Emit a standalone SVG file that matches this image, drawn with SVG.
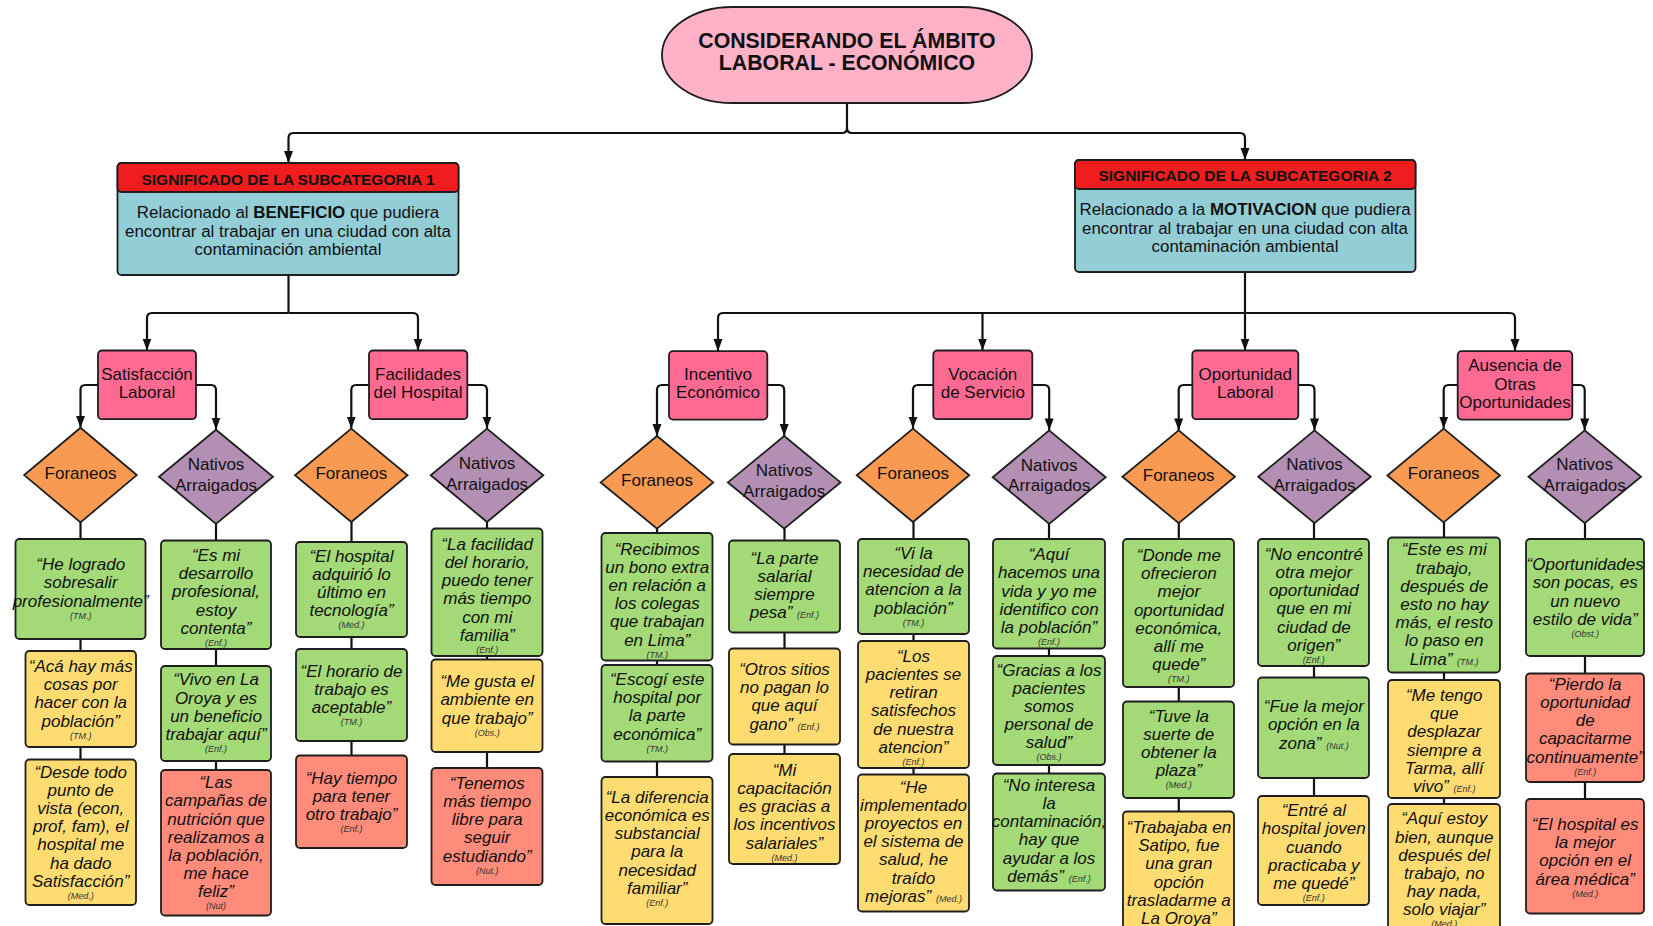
<svg xmlns="http://www.w3.org/2000/svg" width="1653" height="926" viewBox="0 0 1653 926">
<defs>
<style>
text{font-family:"Liberation Sans",Arial,sans-serif;text-anchor:middle;fill:#111}
.ttl{font-size:21.3px;font-weight:bold}
.hdr{font-size:15.5px;font-weight:bold}
.dsc{font-size:16.9px}
.cat,.dia{font-size:17px}
.q{font-size:17px;font-style:italic}
.a{font-size:9px;font-style:italic;fill:#333}
.box{stroke:#1e1e1e;stroke-width:1.8}
.g{fill:#a3d977}.y{fill:#ffdc71}.s{fill:#ff8b7b}
.fo{fill:#f89a52}.na{fill:#b48fb4}
.ck{fill:#ff6a93}
.ln{fill:none;stroke:#111;stroke-width:2.2}
.ar{marker-end:url(#tip)}
</style>
<marker id="tip" viewBox="0 0 12 10" refX="12" refY="5" markerWidth="12" markerHeight="10" markerUnits="userSpaceOnUse" orient="auto">
<path d="M0,0.5 L12,5 L0,9.5 z" fill="#111"/>
</marker>
</defs>
<rect width="1653" height="926" fill="#fff"/>

<!-- connectors -->
<g id="connectors">
<path class="ln ar" d="M847,103 V128 q0,5 -5,5 H293.5 q-5,0 -5,5 V163"/>
<path class="ln ar" d="M847,128 q0,5 5,5 H1240 q5,0 5,5 V160"/>
<path class="ln" d="M288.5,275 V313"/>
<path class="ln ar" d="M288.5,313 H152 q-5,0 -5,5 V350.5"/>
<path class="ln ar" d="M288.5,313 H413 q5,0 5,5 V350.5"/>
<path class="ln" d="M1245,272 V313"/>
<path class="ln ar" d="M1245,313 H723 q-5,0 -5,5 V351"/>
<path class="ln ar" d="M982.5,313 V350.5"/>
<path class="ln ar" d="M1245,313 V350.5"/>
<path class="ln ar" d="M1245,313 H1510 q5,0 5,5 V351"/>
<!-- category to group -->
<path class="ln ar" d="M98,385 H85.5 q-5,0 -5,5 V427.8"/>
<path class="ln ar" d="M196,385 H211 q5,0 5,5 V429.7"/>
<path class="ln ar" d="M369,385 H356.3 q-5,0 -5,5 V428.6"/>
<path class="ln ar" d="M467.3,385 H482 q5,0 5,5 V428.6"/>
<path class="ln ar" d="M669,385 H662 q-5,0 -5,5 V436"/>
<path class="ln ar" d="M767.3,385 H779.2 q5,0 5,5 V436"/>
<path class="ln ar" d="M933.3,385 H918 q-5,0 -5,5 V428.6"/>
<path class="ln ar" d="M1032.3,385 H1044.2 q5,0 5,5 V430.4"/>
<path class="ln ar" d="M1192.3,385 H1183.7 q-5,0 -5,5 V430.4"/>
<path class="ln ar" d="M1298.3,385 H1309.5 q5,0 5,5 V430.4"/>
<path class="ln ar" d="M1457.7,385 H1448.7 q-5,0 -5,5 V428.6"/>
<path class="ln ar" d="M1572.3,385 H1579.7 q5,0 5,5 V430.4"/>
<!-- group to quotes -->
<path class="ln" d="M80.5,522 V760"/>
<path class="ln" d="M216,523 V770"/>
<path class="ln" d="M351.5,522 V756"/>
<path class="ln" d="M487,522 V768"/>
<path class="ln" d="M657,528 V777"/>
<path class="ln" d="M784.5,528 V754"/>
<path class="ln" d="M913.5,522 V775"/>
<path class="ln" d="M1049,523 V774"/>
<path class="ln" d="M1178.8,523 V812"/>
<path class="ln" d="M1314,523 V796"/>
<path class="ln" d="M1444,522 V804"/>
<path class="ln" d="M1585,523 V799"/>
</g>

<!-- title -->
<g id="title">
<rect class="box" x="662" y="7" width="370" height="96" rx="70" ry="48" fill="#ffb1c8"/>
<text class="ttl" x="847" y="47.5">CONSIDERANDO EL ÁMBITO</text>
<text class="ttl" x="847" y="70.3">LABORAL - ECONÓMICO</text>
</g>

<!-- subcategory 1 -->
<g id="sub1">
<rect class="box" x="117.5" y="163" width="341" height="112" rx="4" fill="#93cdd6"/>
<rect class="box" x="117.5" y="163" width="341" height="29" rx="4" fill="#f01c1e"/>
<text class="hdr" x="288" y="184.6">SIGNIFICADO DE LA SUBCATEGORIA 1</text>
<text class="dsc" x="288" y="218">Relacionado al <tspan font-weight="bold">BENEFICIO</tspan> que pudiera</text>
<text class="dsc" x="288" y="236.6">encontrar al trabajar en una ciudad con alta</text>
<text class="dsc" x="288" y="254.9">contaminación ambiental</text>
</g>

<!-- subcategory 2 -->
<g id="sub2">
<rect class="box" x="1075" y="160" width="340.5" height="112" rx="4" fill="#93cdd6"/>
<rect class="box" x="1075" y="160" width="340.5" height="29" rx="4" fill="#f01c1e"/>
<text class="hdr" x="1245" y="180.6">SIGNIFICADO DE LA SUBCATEGORIA 2</text>
<text class="dsc" x="1245" y="215">Relacionado a la <tspan font-weight="bold">MOTIVACION</tspan> que pudiera</text>
<text class="dsc" x="1245" y="233.6">encontrar al trabajar en una ciudad con alta</text>
<text class="dsc" x="1245" y="251.9">contaminación ambiental</text>
</g>

<!-- categories -->
<g id="cat-satisfaccion">
<rect class="box ck" x="98" y="350.5" width="98" height="68.7" rx="4"/>
<text class="cat" x="147" y="379.6">Satisfacción</text>
<text class="cat" x="147" y="397.6">Laboral</text>
</g>
<g id="cat-facilidades">
<rect class="box ck" x="369" y="350.5" width="98.3" height="68.7" rx="4"/>
<text class="cat" x="418" y="379.6">Facilidades</text>
<text class="cat" x="418" y="397.6">del Hospital</text>
</g>
<g id="cat-incentivo">
<rect class="box ck" x="669" y="351.2" width="98.3" height="68.4" rx="4"/>
<text class="cat" x="718" y="380.4">Incentivo</text>
<text class="cat" x="718" y="398.3">Económico</text>
</g>
<g id="cat-vocacion">
<rect class="box ck" x="933.3" y="350.5" width="99" height="68.7" rx="4"/>
<text class="cat" x="982.8" y="379.6">Vocación</text>
<text class="cat" x="982.8" y="397.6">de Servicio</text>
</g>
<g id="cat-oportunidad">
<rect class="box ck" x="1192.3" y="350.5" width="106" height="68.7" rx="4"/>
<text class="cat" x="1245.3" y="379.6">Oportunidad</text>
<text class="cat" x="1245.3" y="397.6">Laboral</text>
</g>
<g id="cat-ausencia">
<rect class="box ck" x="1457.7" y="351.2" width="114.6" height="68.4" rx="4"/>
<text class="cat" x="1515" y="371.4">Ausencia de</text>
<text class="cat" x="1515" y="389.7">Otras</text>
<text class="cat" x="1515" y="407.7">Oportunidades</text>
</g>

<!-- groups -->
<g id="sat-foraneos"><polygon class="box fo" points="80.5,427.8 136.8,475.1 80.5,522.4 24.2,475.1"/><text class="dia" x="80.5" y="478.8">Foraneos</text></g>
<g id="sat-nativos"><polygon class="box na" points="216,429.7 273,476.8 216,523.9 159,476.8"/><text class="dia" x="216" y="470.4">Nativos</text><text class="dia" x="216" y="491">Arraigados</text></g>
<g id="fac-foraneos"><polygon class="box fo" points="351.3,428.6 407.6,475.3 351.3,522 295,475.3"/><text class="dia" x="351.3" y="479">Foraneos</text></g>
<g id="fac-nativos"><polygon class="box na" points="487,428.6 543.3,475.3 487,522 430.7,475.3"/><text class="dia" x="487" y="468.9">Nativos</text><text class="dia" x="487" y="489.5">Arraigados</text></g>
<g id="inc-foraneos"><polygon class="box fo" points="657,436 713.3,482.4 657,528.7 600.7,482.4"/><text class="dia" x="657" y="486.1">Foraneos</text></g>
<g id="inc-nativos"><polygon class="box na" points="784.2,436 840.5,482.4 784.2,528.7 727.9,482.4"/><text class="dia" x="784.2" y="476">Nativos</text><text class="dia" x="784.2" y="496.6">Arraigados</text></g>
<g id="voc-foraneos"><polygon class="box fo" points="913,428.6 969.3,475.3 913,522 856.7,475.3"/><text class="dia" x="913" y="479">Foraneos</text></g>
<g id="voc-nativos"><polygon class="box na" points="1049.2,430.4 1105.7,477.2 1049.2,523.9 992.7,477.2"/><text class="dia" x="1049.2" y="470.8">Nativos</text><text class="dia" x="1049.2" y="491.4">Arraigados</text></g>
<g id="opo-foraneos"><polygon class="box fo" points="1178.7,430.4 1235,476.8 1178.7,523.1 1122.4,476.8"/><text class="dia" x="1178.7" y="480.5">Foraneos</text></g>
<g id="opo-nativos"><polygon class="box na" points="1314.5,430.4 1370.8,476.8 1314.5,523.1 1258.2,476.8"/><text class="dia" x="1314.5" y="470.4">Nativos</text><text class="dia" x="1314.5" y="491">Arraigados</text></g>
<g id="aus-foraneos"><polygon class="box fo" points="1443.7,428.6 1500,475.5 1443.7,522.4 1387.4,475.5"/><text class="dia" x="1443.7" y="479.2">Foraneos</text></g>
<g id="aus-nativos"><polygon class="box na" points="1584.7,430.4 1641,476.8 1584.7,523.1 1528.4,476.8"/><text class="dia" x="1584.7" y="470.4">Nativos</text><text class="dia" x="1584.7" y="491">Arraigados</text></g>

<!-- quotes: Satisfacción Laboral -->
<g id="sat-f1"><rect class="box g" x="15.5" y="539" width="130" height="100" rx="4"/>
<text class="q" x="80.7" y="570.2">“He logrado<tspan x="80.7" dy="18.2">sobresalir</tspan><tspan x="80.7" dy="18.2">profesionalmente”</tspan><tspan class="a" x="80.7" dy="12">(TM.)</tspan></text></g>
<g id="sat-f2"><rect class="box y" x="25.5" y="651" width="110.5" height="96" rx="4"/>
<text class="q" x="80.7" y="671.9">“Acá hay más<tspan x="80.7" dy="18.2">cosas por</tspan><tspan x="80.7" dy="18.2">hacer con la</tspan><tspan x="80.7" dy="18.2">población”</tspan><tspan class="a" x="80.7" dy="12">(TM.)</tspan></text></g>
<g id="sat-f3"><rect class="box y" x="25.5" y="759.5" width="110.5" height="145.5" rx="4"/>
<text class="q" x="80.7" y="777.6">“Desde todo<tspan x="80.7" dy="18.2">punto de</tspan><tspan x="80.7" dy="18.2">vista (econ,</tspan><tspan x="80.7" dy="18.2">prof, fam), el</tspan><tspan x="80.7" dy="18.2">hospital me</tspan><tspan x="80.7" dy="18.2">ha dado</tspan><tspan x="80.7" dy="18.2">Satisfacción”</tspan><tspan class="a" x="80.7" dy="12">(Med.)</tspan></text></g>
<g id="sat-n1"><rect class="box g" x="161" y="540.5" width="110" height="108.5" rx="4"/>
<text class="q" x="216" y="560.9">“Es mi<tspan x="216" dy="18.2">desarrollo</tspan><tspan x="216" dy="18.2">profesional,</tspan><tspan x="216" dy="18.2">estoy</tspan><tspan x="216" dy="18.2">contenta”</tspan><tspan class="a" x="216" dy="12">(Enf.)</tspan></text></g>
<g id="sat-n2"><rect class="box g" x="161" y="666" width="110" height="95" rx="4"/>
<text class="q" x="216" y="685.3">“Vivo en La<tspan x="216" dy="18.2">Oroya y es</tspan><tspan x="216" dy="18.2">un beneficio</tspan><tspan x="216" dy="18.2">trabajar aquí”</tspan><tspan class="a" x="216" dy="12">(Enf.)</tspan></text></g>
<g id="sat-n3"><rect class="box s" x="161" y="770" width="110" height="145.5" rx="4"/>
<text class="q" x="216" y="788.1">“Las<tspan x="216" dy="18.2">campañas de</tspan><tspan x="216" dy="18.2">nutrición que</tspan><tspan x="216" dy="18.2">realizamos a</tspan><tspan x="216" dy="18.2">la población,</tspan><tspan x="216" dy="18.2">me hace</tspan><tspan x="216" dy="18.2">feliz”</tspan><tspan class="a" x="216" dy="12">(Nut)</tspan></text></g>

<!-- quotes: Facilidades del Hospital -->
<g id="fac-f1"><rect class="box g" x="296" y="542" width="111" height="95" rx="4"/>
<text class="q" x="351.5" y="561.6">“El hospital<tspan x="351.5" dy="18.2">adquirió lo</tspan><tspan x="351.5" dy="18.2">último en</tspan><tspan x="351.5" dy="18.2">tecnología”</tspan><tspan class="a" x="351.5" dy="12">(Med.)</tspan></text></g>
<g id="fac-f2"><rect class="box g" x="296" y="649" width="111" height="92" rx="4"/>
<text class="q" x="351.5" y="676.7">“El horario de<tspan x="351.5" dy="18.2">trabajo es</tspan><tspan x="351.5" dy="18.2">aceptable”</tspan><tspan class="a" x="351.5" dy="12">(TM.)</tspan></text></g>
<g id="fac-f3"><rect class="box s" x="296" y="755.5" width="111" height="92.5" rx="4"/>
<text class="q" x="351.5" y="784">“Hay tiempo<tspan x="351.5" dy="18.2">para tener</tspan><tspan x="351.5" dy="18.2">otro trabajo”</tspan><tspan class="a" x="351.5" dy="12">(Enf.)</tspan></text></g>
<g id="fac-n1"><rect class="box g" x="431.5" y="528.5" width="111" height="127.5" rx="4"/>
<text class="q" x="487.2" y="549.7">“La facilidad<tspan x="487.2" dy="18.2">del horario,</tspan><tspan x="487.2" dy="18.2">puedo tener</tspan><tspan x="487.2" dy="18.2">más tiempo</tspan><tspan x="487.2" dy="18.2">con mi</tspan><tspan x="487.2" dy="18.2">familia”</tspan><tspan class="a" x="487.2" dy="12">(Enf.)</tspan></text></g>
<g id="fac-n2"><rect class="box y" x="431.5" y="659.5" width="111" height="92.5" rx="4"/>
<text class="q" x="487.2" y="687.2">“Me gusta el<tspan x="487.2" dy="18.2">ambiente en</tspan><tspan x="487.2" dy="18.2">que trabajo”</tspan><tspan class="a" x="487.2" dy="12">(Obs.)</tspan></text></g>
<g id="fac-n3"><rect class="box s" x="431.5" y="768" width="111" height="117" rx="4"/>
<text class="q" x="487.2" y="788.8">“Tenemos<tspan x="487.2" dy="18.2">más tiempo</tspan><tspan x="487.2" dy="18.2">libre para</tspan><tspan x="487.2" dy="18.2">seguir</tspan><tspan x="487.2" dy="18.2">estudiando”</tspan><tspan class="a" x="487.2" dy="12">(Nut.)</tspan></text></g>

<!-- quotes: Incentivo Económico -->
<g id="inc-f1"><rect class="box g" x="601.5" y="533" width="111" height="127.5" rx="4"/>
<text class="q" x="657.2" y="554.5">“Recibimos<tspan x="657.2" dy="18.2">un bono extra</tspan><tspan x="657.2" dy="18.2">en relación a</tspan><tspan x="657.2" dy="18.2">los colegas</tspan><tspan x="657.2" dy="18.2">que trabajan</tspan><tspan x="657.2" dy="18.2">en Lima”</tspan><tspan class="a" x="657.2" dy="12">(TM.)</tspan></text></g>
<g id="inc-f2"><rect class="box g" x="601.5" y="665" width="111" height="96.5" rx="4"/>
<text class="q" x="657.2" y="685">“Escogí este<tspan x="657.2" dy="18.2">hospital por</tspan><tspan x="657.2" dy="18.2">la parte</tspan><tspan x="657.2" dy="18.2">económica”</tspan><tspan class="a" x="657.2" dy="12">(TM.)</tspan></text></g>
<g id="inc-f3"><rect class="box y" x="601.5" y="777" width="111" height="147" rx="4"/>
<text class="q" x="657.2" y="802.7">“La diferencia<tspan x="657.2" dy="18.2">económica es</tspan><tspan x="657.2" dy="18.2">substancial</tspan><tspan x="657.2" dy="18.2">para la</tspan><tspan x="657.2" dy="18.2">necesidad</tspan><tspan x="657.2" dy="18.2">familiar”</tspan><tspan class="a" x="657.2" dy="12">(Enf.)</tspan></text></g>
<g id="inc-n1"><rect class="box g" x="729" y="540.5" width="111" height="92" rx="4"/>
<text class="q" x="784.5" y="563.5">“La parte<tspan x="784.5" dy="18.2">salarial</tspan><tspan x="784.5" dy="18.2">siempre</tspan><tspan x="784.5" dy="18.2">pesa” <tspan class="a">(Enf.)</tspan></tspan></text></g>
<g id="inc-n2"><rect class="box y" x="729" y="648.5" width="111" height="96" rx="4"/>
<text class="q" x="784.5" y="674.9">“Otros sitios<tspan x="784.5" dy="18.2">no pagan lo</tspan><tspan x="784.5" dy="18.2">que aquí</tspan><tspan x="784.5" dy="18.2">gano” <tspan class="a">(Enf.)</tspan></tspan></text></g>
<g id="inc-n3"><rect class="box y" x="729" y="754" width="111" height="110" rx="4"/>
<text class="q" x="784.5" y="775.8">“Mi<tspan x="784.5" dy="18.2">capacitación</tspan><tspan x="784.5" dy="18.2">es gracias a</tspan><tspan x="784.5" dy="18.2">los incentivos</tspan><tspan x="784.5" dy="18.2">salariales”</tspan><tspan class="a" x="784.5" dy="12">(Med.)</tspan></text></g>

<!-- quotes: Vocación de Servicio -->
<g id="voc-f1"><rect class="box g" x="858" y="539" width="111" height="95" rx="4"/>
<text class="q" x="913.5" y="559">“Vi la<tspan x="913.5" dy="18.2">necesidad de</tspan><tspan x="913.5" dy="18.2">atencion a la</tspan><tspan x="913.5" dy="18.2">población”</tspan><tspan class="a" x="913.5" dy="12">(TM.)</tspan></text></g>
<g id="voc-f2"><rect class="box y" x="858" y="641" width="111" height="127" rx="4"/>
<text class="q" x="913.5" y="661.8">“Los<tspan x="913.5" dy="18.2">pacientes se</tspan><tspan x="913.5" dy="18.2">retiran</tspan><tspan x="913.5" dy="18.2">satisfechos</tspan><tspan x="913.5" dy="18.2">de nuestra</tspan><tspan x="913.5" dy="18.2">atencion”</tspan><tspan class="a" x="913.5" dy="12">(Enf.)</tspan></text></g>
<g id="voc-f3"><rect class="box y" x="858" y="774.5" width="111" height="137" rx="4"/>
<text class="q" x="913.5" y="792.6">“He<tspan x="913.5" dy="18.2">implementado</tspan><tspan x="913.5" dy="18.2">proyectos en</tspan><tspan x="913.5" dy="18.2">el sistema de</tspan><tspan x="913.5" dy="18.2">salud, he</tspan><tspan x="913.5" dy="18.2">traído</tspan><tspan x="913.5" dy="18.2">mejoras” <tspan class="a">(Med.)</tspan></tspan></text></g>
<g id="voc-n1"><rect class="box g" x="993" y="539" width="112" height="109.5" rx="4"/>
<text class="q" x="1049" y="560.1">“Aquí<tspan x="1049" dy="18.2">hacemos una</tspan><tspan x="1049" dy="18.2">vida y yo me</tspan><tspan x="1049" dy="18.2">identifico con</tspan><tspan x="1049" dy="18.2">la población”</tspan><tspan class="a" x="1049" dy="12">(Enf.)</tspan></text></g>
<g id="voc-n2"><rect class="box g" x="993" y="656" width="112" height="109" rx="4"/>
<text class="q" x="1049" y="675.6">“Gracias a los<tspan x="1049" dy="18.2">pacientes</tspan><tspan x="1049" dy="18.2">somos</tspan><tspan x="1049" dy="18.2">personal de</tspan><tspan x="1049" dy="18.2">salud”</tspan><tspan class="a" x="1049" dy="12">(Obs.)</tspan></text></g>
<g id="voc-n3"><rect class="box g" x="993" y="773.5" width="112" height="117" rx="4"/>
<text class="q" x="1049" y="790.7">“No interesa<tspan x="1049" dy="18.2">la</tspan><tspan x="1049" dy="18.2">contaminación,</tspan><tspan x="1049" dy="18.2">hay que</tspan><tspan x="1049" dy="18.2">ayudar a los</tspan><tspan x="1049" dy="18.2">demás” <tspan class="a">(Enf.)</tspan></tspan></text></g>

<!-- quotes: Oportunidad Laboral -->
<g id="opo-f1"><rect class="box g" x="1123" y="539" width="111" height="148" rx="4"/>
<text class="q" x="1178.8" y="560.9">“Donde me<tspan x="1178.8" dy="18.2">ofrecieron</tspan><tspan x="1178.8" dy="18.2">mejor</tspan><tspan x="1178.8" dy="18.2">oportunidad</tspan><tspan x="1178.8" dy="18.2">económica,</tspan><tspan x="1178.8" dy="18.2">allí me</tspan><tspan x="1178.8" dy="18.2">quede”</tspan><tspan class="a" x="1178.8" dy="12">(TM.)</tspan></text></g>
<g id="opo-f2"><rect class="box g" x="1123" y="701.5" width="111" height="96.5" rx="4"/>
<text class="q" x="1178.8" y="721.6">“Tuve la<tspan x="1178.8" dy="18.2">suerte de</tspan><tspan x="1178.8" dy="18.2">obtener la</tspan><tspan x="1178.8" dy="18.2">plaza”</tspan><tspan class="a" x="1178.8" dy="12">(Med.)</tspan></text></g>
<g id="opo-f3"><rect class="box y" x="1123" y="811.5" width="111" height="140" rx="4"/>
<text class="q" x="1178.8" y="833">“Trabajaba en<tspan x="1178.8" dy="18.2">Satipo, fue</tspan><tspan x="1178.8" dy="18.2">una gran</tspan><tspan x="1178.8" dy="18.2">opción</tspan><tspan x="1178.8" dy="18.2">trasladarme a</tspan><tspan x="1178.8" dy="18.2">La Oroya”</tspan></text></g>
<g id="opo-n1"><rect class="box g" x="1258" y="539" width="111" height="127" rx="4"/>
<text class="q" x="1313.8" y="559.8">“No encontré<tspan x="1313.8" dy="18.2">otra mejor</tspan><tspan x="1313.8" dy="18.2">oportunidad</tspan><tspan x="1313.8" dy="18.2">que en mi</tspan><tspan x="1313.8" dy="18.2">ciudad de</tspan><tspan x="1313.8" dy="18.2">origen”</tspan><tspan class="a" x="1313.8" dy="12">(Enf.)</tspan></text></g>
<g id="opo-n2"><rect class="box g" x="1258" y="677.5" width="111" height="100.5" rx="4"/>
<text class="q" x="1313.8" y="712.2">“Fue la mejor<tspan x="1313.8" dy="18.2">opción en la</tspan><tspan x="1313.8" dy="18.2">zona” <tspan class="a">(Nut.)</tspan></tspan></text></g>
<g id="opo-n3"><rect class="box y" x="1258" y="796" width="111" height="109" rx="4"/>
<text class="q" x="1313.8" y="816.1">“Entré al<tspan x="1313.8" dy="18.2">hospital joven</tspan><tspan x="1313.8" dy="18.2">cuando</tspan><tspan x="1313.8" dy="18.2">practicaba y</tspan><tspan x="1313.8" dy="18.2">me quedé”</tspan><tspan class="a" x="1313.8" dy="12">(Enf.)</tspan></text></g>

<!-- quotes: Ausencia de Otras Oportunidades -->
<g id="aus-f1"><rect class="box g" x="1388" y="537.5" width="112" height="135" rx="4"/>
<text class="q" x="1444.2" y="555.3">“Este es mi<tspan x="1444.2" dy="18.2">trabajo,</tspan><tspan x="1444.2" dy="18.2">después de</tspan><tspan x="1444.2" dy="18.2">esto no hay</tspan><tspan x="1444.2" dy="18.2">más, el resto</tspan><tspan x="1444.2" dy="18.2">lo paso en</tspan><tspan x="1444.2" dy="18.2">Lima” <tspan class="a">(TM.)</tspan></tspan></text></g>
<g id="aus-f2"><rect class="box y" x="1388" y="680" width="112" height="118" rx="4"/>
<text class="q" x="1444.2" y="701">“Me tengo<tspan x="1444.2" dy="18.2">que</tspan><tspan x="1444.2" dy="18.2">desplazar</tspan><tspan x="1444.2" dy="18.2">siempre a</tspan><tspan x="1444.2" dy="18.2">Tarma, allí</tspan><tspan x="1444.2" dy="18.2">vivo” <tspan class="a">(Enf.)</tspan></tspan></text></g>
<g id="aus-f3"><rect class="box y" x="1388" y="804" width="112" height="140" rx="4"/>
<text class="q" x="1444.2" y="824.3">“Aquí estoy<tspan x="1444.2" dy="18.2">bien, aunque</tspan><tspan x="1444.2" dy="18.2">después del</tspan><tspan x="1444.2" dy="18.2">trabajo, no</tspan><tspan x="1444.2" dy="18.2">hay nada,</tspan><tspan x="1444.2" dy="18.2">solo viajar”</tspan><tspan class="a" x="1444.2" dy="12">(Med.)</tspan></text></g>
<g id="aus-n1"><rect class="box g" x="1526" y="539" width="118" height="117" rx="4"/>
<text class="q" x="1585.2" y="570.2">“Oportunidades<tspan x="1585.2" dy="18.2">son pocas, es</tspan><tspan x="1585.2" dy="18.2">un nuevo</tspan><tspan x="1585.2" dy="18.2">estilo de vida”</tspan><tspan class="a" x="1585.2" dy="12">(Obst.)</tspan></text></g>
<g id="aus-n2"><rect class="box s" x="1526" y="673.5" width="118" height="108.5" rx="4"/>
<text class="q" x="1585.2" y="689.8">“Pierdo la<tspan x="1585.2" dy="18.2">oportunidad</tspan><tspan x="1585.2" dy="18.2">de</tspan><tspan x="1585.2" dy="18.2">capacitarme</tspan><tspan x="1585.2" dy="18.2">continuamente”</tspan><tspan class="a" x="1585.2" dy="12">(Enf.)</tspan></text></g>
<g id="aus-n3"><rect class="box s" x="1526" y="799" width="118" height="114.5" rx="4"/>
<text class="q" x="1585.2" y="830">“El hospital es<tspan x="1585.2" dy="18.2">la mejor</tspan><tspan x="1585.2" dy="18.2">opción en el</tspan><tspan x="1585.2" dy="18.2">área médica”</tspan><tspan class="a" x="1585.2" dy="12">(Med.)</tspan></text></g>
</svg>
